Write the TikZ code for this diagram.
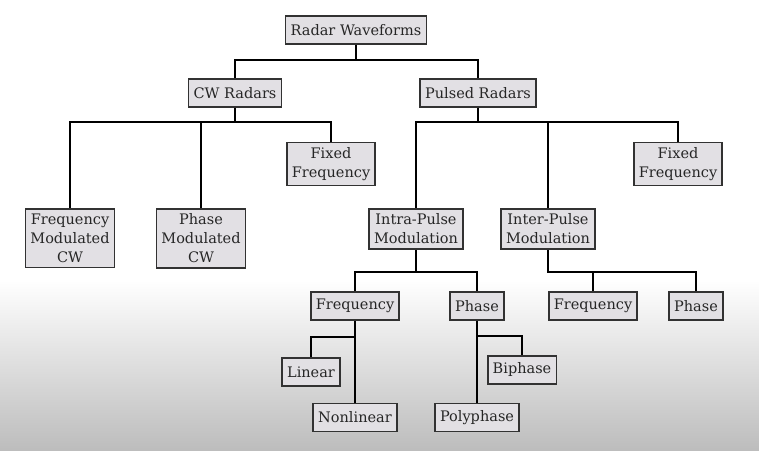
\documentclass[tikz,border=0pt]{standalone}
\usepackage{fontspec}
\setmainfont{DejaVu Serif}
\usepackage{xcolor}
\definecolor{boxfill}{RGB}{226,224,228}
\definecolor{boxline}{RGB}{50,50,50}

\begin{document}
\begin{tikzpicture}[x=1pt, y=-1pt, every node/.style={font=\fontsize{14.5}{19}\selectfont},
  wave/.style={draw=boxline, line width=1.6pt, fill=boxfill, text=black!85, align=center, inner xsep=5pt, inner ysep=5pt, minimum height=28pt, anchor=north},
  link/.style={line width=2pt, black}]
  % background
  \useasboundingbox (0,0) rectangle (759,450);
  \fill[white] (0,0) rectangle (759,450);
  \shade[top color=white, bottom color=black!26] (0,280) rectangle (759,450);
  % buses
  \coordinate (busTop) at (0,60);
  \coordinate (busMid) at (0,122);
  \coordinate (busLow) at (0,272);
  \coordinate (busFreq) at (0,337);
  \coordinate (busPhase) at (0,336);
  % nodes
  \node[wave] (root) at (356,15) {Radar Waveforms};
  \node[wave] (cw) at (235,78) {CW Radars};
  \node[wave] (pulsed) at (478,78) {Pulsed Radars};
  \node[wave] (fixedCw) at (331,141.5) {Fixed\\Frequency};
  \node[wave] (fmCw) at (70,208) {Frequency\\Modulated\\CW};
  \node[wave] (pmCw) at (201,208) {Phase\\Modulated\\CW};
  \node[wave] (fixedPulse) at (678,141.5) {Fixed\\Frequency};
  \node[wave] (intra) at (416,208) {Intra-Pulse\\Modulation};
  \node[wave] (inter) at (548,208) {Inter-Pulse\\Modulation};
  \node[wave] (intraFreq) at (355,291) {Frequency};
  \node[wave] (intraPhase) at (477,291) {Phase};
  \node[wave] (interFreq) at (593,291) {Frequency};
  \node[wave] (interPhase) at (696,291) {Phase};
  \node[wave] (linear) at (311,357) {Linear};
  \node[wave] (nonlinear) at (355,402.5) {Nonlinear};
  \node[wave] (biphase) at (522,355) {Biphase};
  \node[wave] (polyphase) at (477,402.5) {Polyphase};
  % tree
  \draw[link] (root) -- (root |- busTop) -| (cw);
  \draw[link] (root |- busTop) -| (pulsed);
  \draw[link] (cw) -- (cw |- busMid) -| (fmCw);
  \draw[link] (cw |- busMid) -| (pmCw);
  \draw[link] (cw |- busMid) -| (fixedCw);
  \draw[link] (pulsed) -- (pulsed |- busMid) -| (intra);
  \draw[link] (pulsed |- busMid) -| (inter);
  \draw[link] (pulsed |- busMid) -| (fixedPulse);
  \draw[link] (intra) -- (intra |- busLow) -| (intraFreq);
  \draw[link] (intra |- busLow) -| (intraPhase);
  \draw[link] (inter) -- (inter |- busLow) -| (interPhase);
  \draw[link] (interFreq) -- (interFreq |- busLow);
  \draw[link] (intraFreq) -- (nonlinear);
  \draw[link] (intraFreq |- busFreq) -| (linear);
  \draw[link] (intraPhase) -- (polyphase);
  \draw[link] (intraPhase |- busPhase) -| (biphase);
\end{tikzpicture}
\end{document}
